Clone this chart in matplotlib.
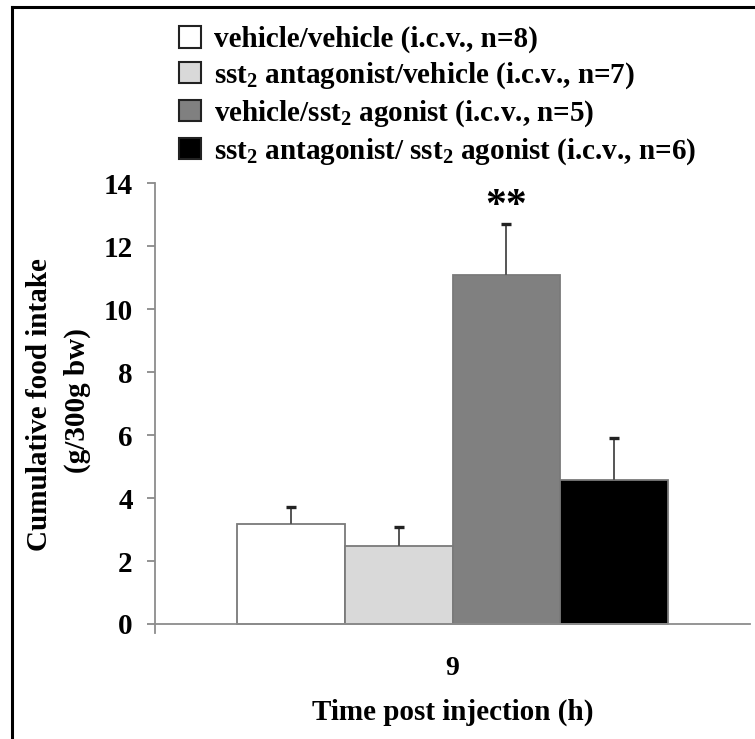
import matplotlib
matplotlib.use("Agg")
import matplotlib.pyplot as plt
from matplotlib.patches import Patch
from matplotlib.lines import Line2D

plt.rcParams['font.family'] = ['Liberation Serif', 'DejaVu Serif']
plt.rcParams['font.weight'] = 'bold'
plt.rcParams['axes.labelweight'] = 'bold'
plt.rcParams['mathtext.fontset'] = 'custom'
plt.rcParams['mathtext.rm'] = 'Liberation Serif:bold'
plt.rcParams['mathtext.bf'] = 'Liberation Serif:bold'
plt.rcParams['mathtext.it'] = 'Liberation Serif:bold'
plt.rcParams['mathtext.default'] = 'rm'

# ---- data ----
groups = ["vehicle/vehicle (i.c.v., n=8)",
          "sst$_2$ antagonist/vehicle (i.c.v., n=7)",
          "vehicle/sst$_2$ agonist (i.c.v., n=5)",
          "sst$_2$ antagonist/ sst$_2$ agonist (i.c.v., n=6)"]
means = [3.17, 2.48, 11.09, 4.57]
sems = [0.56, 0.60, 1.61, 1.33]
time_label = ["9"]
yticks = [0, 2, 4, 6, 8, 10, 12, 14]
colors = ["#ffffff", "#d9d9d9", "#808080", "#000000"]
signif = ["", "", "**", ""]

W, H = 755, 739
fig = plt.figure(figsize=(W / 100, H / 100), dpi=100)
ax = fig.add_axes([155 / W, 1 - 633.4 / H, (750 - 155) / W, (633.4 - 183.3) / H])
ax.spines['bottom'].set_position(('data', 0))

offsets = [-1.5, -0.5, 0.5, 1.5]
for i in range(4):
    ax.bar(offsets[i], means[i], width=1.0, color=colors[i],
           edgecolor="#7a7a7a", linewidth=1.3, zorder=2, label=groups[i])
    ax.errorbar(offsets[i], means[i], yerr=[[0], [sems[i]]], fmt='none',
                ecolor="#555555", elinewidth=1.4, capsize=0, zorder=3)
    ax.plot(offsets[i], means[i] + sems[i], marker='_', markersize=7, mew=2.4,
            color="#222222", zorder=4)
    if signif[i]:
        ax.text(offsets[i], means[i] + sems[i] + 0.55, signif[i], ha='center', va='center',
                fontsize=30, fontweight='bold')

ax.set_xlim(-2.755, 2.755)
ax.set_ylim(-0.3, 14)
ax.set_xticks([0])
ax.set_xticklabels(time_label, fontsize=20, fontweight='bold')
ax.set_yticks(yticks)
ax.set_yticklabels([str(v) for v in yticks], fontsize=21, fontweight='bold')
ax.tick_params(axis='x', length=0, pad=23)
ax.tick_params(axis='y', length=6, width=1.2, color="#808080", pad=10)
for s in ['top', 'right']:
    ax.spines[s].set_visible(False)
ax.spines['left'].set_bounds(-0.3, 14)
for s in ['left', 'bottom']:
    ax.spines[s].set_color("#8c8c8c")
    ax.spines[s].set_linewidth(1.3)
ax.patch.set_visible(False)

ax.set_xlabel("Time post injection (h)", fontsize=21, fontweight='bold', labelpad=13)
fig.text(40 / W, 1 - 405 / H, "Cumulative food intake", rotation=90, ha='center', va='center',
         fontsize=21, fontweight='bold')
fig.text(77 / W, 1 - 401 / H, "(g/300g bw)", rotation=90, ha='center', va='center',
         fontsize=21, fontweight='bold')

handles = [Patch(facecolor=colors[i], edgecolor="#222222", linewidth=1.5) for i in range(4)]
leg = fig.legend(handles, groups, loc='upper left', bbox_to_anchor=(179 / W, 1 - 26 / H),
                 frameon=False, fontsize=21, handlelength=0.75, handleheight=0.75,
                 handletextpad=0.45, labelspacing=0.25, borderaxespad=0, borderpad=0)

# frame around the figure (left and top edges visible)
fig.add_artist(Line2D([12 / W, 12 / W], [0, 1 - 7 / H], transform=fig.transFigure,
                      color='black', linewidth=2.2))
fig.add_artist(Line2D([12 / W, 1], [1 - 7 / H, 1 - 7 / H], transform=fig.transFigure,
                      color='black', linewidth=2.2))

fig.savefig("out.png", dpi=100, facecolor='white')
